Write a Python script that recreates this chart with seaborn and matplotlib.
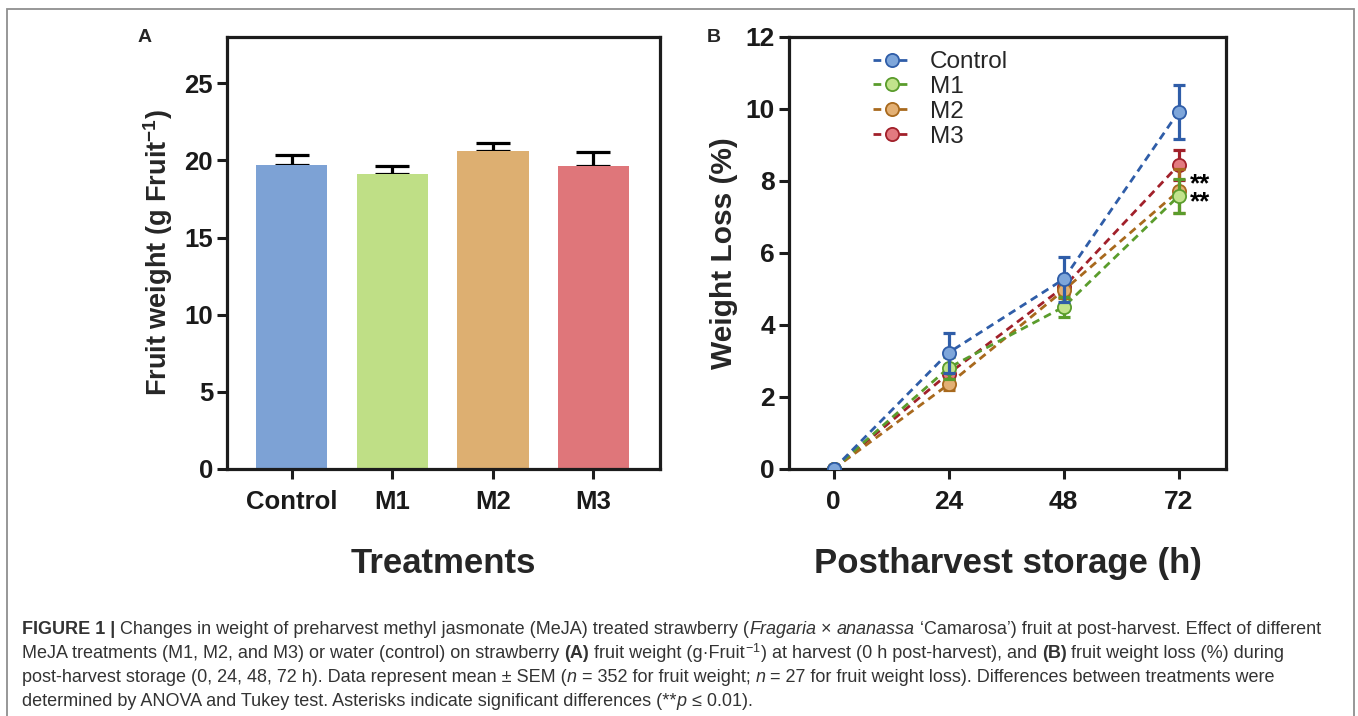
import numpy as np
import pandas as pd
import seaborn as sns
import matplotlib
matplotlib.use("Agg")
import matplotlib.pyplot as plt
from matplotlib.patches import Rectangle

# ---- Panel A: fruit weight at harvest (mean, SEM) ----
treatments = ["Control", "M1", "M2", "M3"]
fruit_weight = [19.70, 19.12, 20.58, 19.63]
fruit_weight_sem = [0.62, 0.52, 0.56, 0.91]

# ---- Panel B: weight loss during storage (mean, SEM) ----
hours = [0, 24, 48, 72]
loss_control = [0.0, 3.23, 5.27, 9.92]
loss_m1 = [0.0, 2.81, 4.50, 7.58]
loss_m2 = [0.0, 2.35, 4.96, 7.72]
loss_m3 = [0.0, 2.65, 5.05, 8.44]
sem_control = [0.0, 0.56, 0.63, 0.76]
sem_m1 = [0.0, 0.30, 0.27, 0.47]
sem_m2 = [0.0, 0.15, 0.20, 0.60]
sem_m3 = [0.0, 0.25, 0.20, 0.41]
significant_at_72h = ["M2", "M1"]   # p <= 0.01 vs control

bar_colors = ["#7DA2D5", "#BFDF86", "#DDAF71", "#DF767A"]
line_colors = {"Control": "#2F5DA8", "M1": "#5A9C2C", "M2": "#A8691D", "M3": "#A1202A"}
fill_colors = {"Control": "#7EA6DA", "M1": "#C2E38C", "M2": "#E3B074", "M3": "#E37A80"}

sns.set_theme(style="ticks")
plt.rcParams["font.family"] = ["Liberation Sans", "DejaVu Sans"]
plt.rcParams["mathtext.fontset"] = "custom"
plt.rcParams["mathtext.rm"] = "Liberation Sans"
plt.rcParams["mathtext.it"] = "Liberation Sans:italic"
plt.rcParams["mathtext.bf"] = "Liberation Sans:bold"

W, H = 1358, 716
fig = plt.figure(figsize=(W / 100, H / 100), dpi=100)
fig.patch.set_facecolor("white")

axA = fig.add_axes([227 / W, 1 - 469 / H, 433 / W, 432 / H])
axB = fig.add_axes([789 / W, 1 - 469 / H, 437 / W, 432 / H])

SPINE = "#1c1c1c"


def style_axes(ax, labelsize):
    for sp in ax.spines.values():
        sp.set_visible(True)
        sp.set_linewidth(2.3)
        sp.set_color(SPINE)
    ax.tick_params(axis="both", direction="out", length=7, width=2.2,
                   color=SPINE, labelsize=labelsize, labelcolor="#1a1a1a")
    ax.tick_params(axis="y", pad=3)
    ax.tick_params(axis="x", pad=8)
    for lbl in ax.get_xticklabels() + ax.get_yticklabels():
        lbl.set_fontweight("bold")


# ---- Panel A ----
dfA = pd.DataFrame({"Treatment": treatments, "Weight": fruit_weight})
sns.barplot(data=dfA, x="Treatment", y="Weight", hue="Treatment",
            palette=bar_colors, width=0.71, saturation=1, errorbar=None,
            legend=False, linewidth=0, zorder=2, ax=axA)
# upper SEM only; the stem's lower end sits behind the bar
axA.errorbar(np.arange(len(treatments)), fruit_weight,
             yerr=[np.zeros(len(treatments)), fruit_weight_sem],
             fmt="none", ecolor="black", elinewidth=2.3, capsize=12,
             capthick=2.3, zorder=1)
axA.set_ylim(0, 28)
axA.set_xlim(-0.643, 3.662)
axA.set_yticks([0, 5, 10, 15, 20, 25])
axA.set_xlabel("Treatments", fontsize=25, fontweight="bold", labelpad=24)
axA.set_ylabel(r"Fruit weight (g Fruit$^{\mathbf{-1}}$)", fontsize=19.5,
               fontweight="bold", labelpad=7)
style_axes(axA, 18.5)

# ---- Panel B ----
series = {"Control": (loss_control, sem_control), "M1": (loss_m1, sem_m1),
          "M2": (loss_m2, sem_m2), "M3": (loss_m3, sem_m3)}
draw_order = ["M3", "M2", "M1", "Control"]
for z, name in enumerate(draw_order):
    vals, sems = series[name]
    axB.errorbar(hours, vals, yerr=sems, fmt="none", ecolor=line_colors[name],
                 elinewidth=2.3, capsize=4, capthick=2.3, zorder=3 + 2 * z)
    sns.lineplot(x=hours, y=vals, ax=axB, color=line_colors[name],
                 linestyle=(0, (2.8, 1.9)), linewidth=2.0, marker="o",
                 markersize=9.5, markerfacecolor=fill_colors[name],
                 markeredgecolor=line_colors[name], markeredgewidth=1.3,
                 label=name, errorbar=None, zorder=4 + 2 * z)

# significance marks beside the 72 h points, stacked in one text block
sig_y = np.mean([series[n][0][-1] for n in significant_at_72h])
axB.annotate("\n".join("**" for _ in significant_at_72h), xy=(hours[-1], sig_y),
             xytext=(8, 0), textcoords="offset points", ha="left", va="center",
             fontsize=18.5, fontweight="bold", color="black", linespacing=0.68)

axB.set_xlim(-9.3, 81.9)
axB.set_ylim(0, 12)
axB.set_xticks(hours)
axB.set_yticks([0, 2, 4, 6, 8, 10, 12])
axB.set_xlabel("Postharvest storage (h)", fontsize=25, fontweight="bold", labelpad=24)
axB.set_ylabel("Weight Loss (%)", fontsize=21.5, fontweight="bold", labelpad=6)
style_axes(axB, 19)

handles, labels = axB.get_legend_handles_labels()
order = [labels.index(n) for n in ["Control", "M1", "M2", "M3"]]
axB.legend([handles[i] for i in order], [labels[i] for i in order],
           loc="upper left", bbox_to_anchor=((873 - 789) / 437, 1 - (51 - 37) / 432),
           frameon=False, fontsize=17.5, handlelength=1.6, handletextpad=0.75,
           labelspacing=0.12, borderpad=0, borderaxespad=0)

# Panel letters
fig.text(145 / W, 1 - 37 / H, "A", fontsize=14, fontweight="bold", ha="center", va="center")
fig.text(714 / W, 1 - 37 / H, "B", fontsize=14, fontweight="bold", ha="center", va="center")

# Outer frame
fig.patches.append(Rectangle((7 / W, -0.05), (1354 - 7) / W, 1.05 - 9 / H,
                             transform=fig.transFigure, fill=False,
                             edgecolor="#8f8f8f", linewidth=1.3))

# ---- Caption with mixed styles ----
renderer = fig.canvas.get_renderer()
cap_family = ["Liberation Sans Narrow", "Liberation Sans", "DejaVu Sans"]
STYLES = {"n": dict(fontweight="normal", fontstyle="normal"),
          "b": dict(fontweight="bold", fontstyle="normal"),
          "i": dict(fontweight="normal", fontstyle="italic")}
CAP_COLOR = "#333333"

caption = [
    [("FIGURE 1 |", "b"), (" Changes in weight of preharvest methyl jasmonate (MeJA) treated strawberry (", "n"),
     ("Fragaria", "i"), (" \u00d7 ", "n"), ("ananassa", "i"),
     (" \u2018Camarosa\u2019) fruit at post-harvest. Effect of different", "n")],
    [("MeJA treatments (M1, M2, and M3) or water (control) on strawberry ", "n"), ("(A)", "b"),
     (" fruit weight (g\u00b7Fruit", "n"), ("$^{-1}$", "n"),
     (") at harvest (0 h post-harvest), and ", "n"), ("(B)", "b"),
     (" fruit weight loss (%) during", "n")],
    [("post-harvest storage (0, 24, 48, 72 h). Data represent mean \u00b1 SEM (", "n"), ("n", "i"),
     (" = 352 for fruit weight; ", "n"), ("n", "i"),
     (" = 27 for fruit weight loss). Differences between treatments were", "n")],
    [("determined by ANOVA and Tukey test. Asterisks indicate significant differences (**", "n"),
     ("p", "i"), (" \u2264 0.01).", "n")],
]


def text_width(s, size, style):
    t = fig.text(0, 0, s, fontsize=size, family=cap_family, **STYLES[style])
    w = t.get_window_extent(renderer).width
    t.remove()
    return w


def space_width(size, style):
    return text_width("x x", size, style) - text_width("xx", size, style)


def line_width(segs, size):
    total = 0.0
    for s, st in segs:
        core = s.strip(" ")
        n_sp = len(s) - len(core)
        total += text_width(core, size, st) + n_sp * space_width(size, st)
    return total


base_size = 11.5
natural = line_width(caption[0], base_size)
cap_size = base_size * (1328 - 22) / natural


def draw_line(x_px, y_px, segs, size):
    x = x_px
    for s, st in segs:
        sp = space_width(size, st)
        lead = len(s) - len(s.lstrip(" "))
        trail = len(s) - len(s.rstrip(" "))
        core = s.strip(" ")
        x += lead * sp
        t = fig.text(x / W, 1 - y_px / H, core, fontsize=size, family=cap_family,
                     color=CAP_COLOR, ha="left", va="baseline", **STYLES[st])
        x += t.get_window_extent(renderer).width + trail * sp


for k, segs in enumerate(caption):
    draw_line(22, 634 + 24 * k, segs, cap_size)

fig.savefig("out.png", dpi=100, facecolor="white")
